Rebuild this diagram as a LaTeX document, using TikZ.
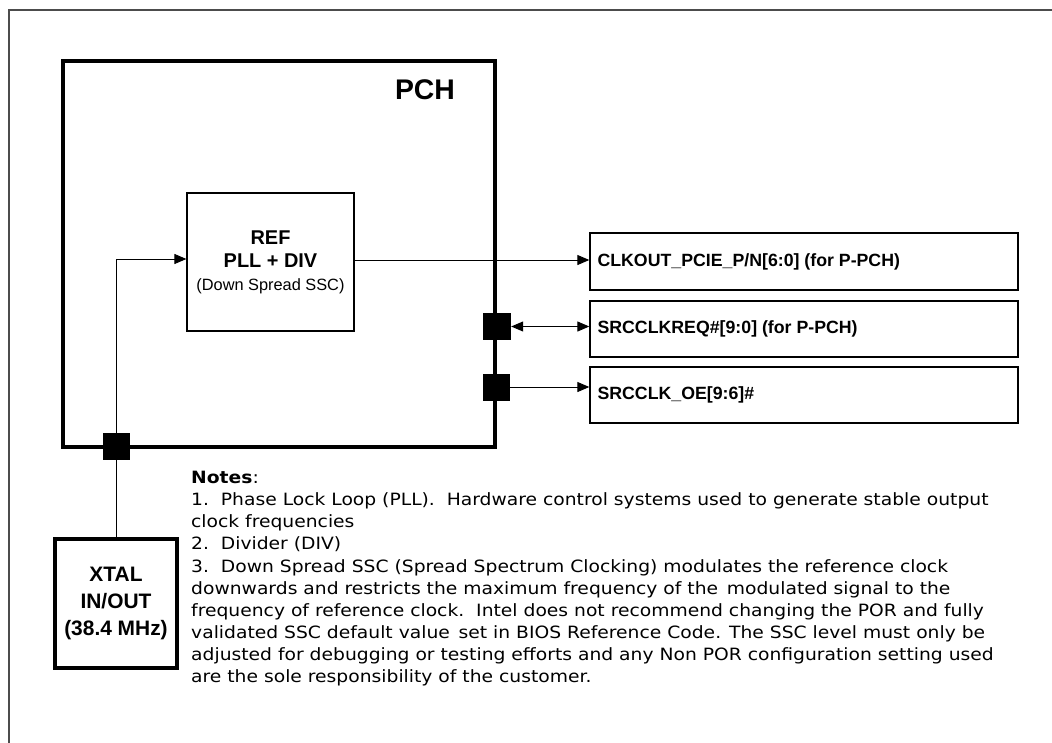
\documentclass[tikz,border=0pt]{standalone}
\usepackage{fontspec}
\setmainfont{Liberation Sans}
\newfontfamily\notefont[FakeStretch=1.105]{DejaVu Sans}
\usetikzlibrary{arrows.meta}
\begin{document}
\begin{tikzpicture}[x=1bp,y=-1bp,
  thinline/.style={line width=1bp, draw=black},
  tip/.style={-{Triangle[length=12bp,width=10bp]}},
  dtip/.style={{Triangle[length=12bp,width=10bp]}-{Triangle[length=12bp,width=10bp]}},
  pinsq/.style={fill=black, draw=none, minimum width=27bp, minimum height=27bp, inner sep=0},
  sigbox/.style={draw, line width=1.3bp, minimum width=428bp, minimum height=56bp, inner sep=0},
  siglbl/.style={anchor=west, inner sep=0, font=\bfseries\fontsize{17.8}{20}\selectfont}]
\useasboundingbox (0,0) rectangle (1052,743);
\draw[line width=1.5bp, draw=black!70] (9,743) -- (9,10) -- (1052,10);
% PCH
\node[draw, line width=4bp, minimum width=432bp, minimum height=386bp, inner sep=0] (pch) at (279,254) {};
\node[font=\bfseries\fontsize{28.5}{30}\selectfont] (pchl) at (425,90) {PCH};
% REF
\node[draw, line width=1.2bp, minimum width=167bp, minimum height=138bp, align=center, inner sep=0,
  font=\fontsize{20}{23}\selectfont] (ref) at (270.5,262)
  {\textbf{REF}\\\textbf{PLL + DIV}\\{\fontsize{16.4}{23}\selectfont (Down Spread SSC)}};
% XTAL
\node[draw, line width=3.3bp, minimum width=122bp, minimum height=129bp, align=center, inner sep=0,
  font=\bfseries\fontsize{21}{27.5}\selectfont] (xtal) at (116,603.5) {XTAL\\IN/OUT\\(38.4 MHz)};
% signal boxes
\node[sigbox, minimum height=57bp] (b1) at (804,261.5) {};
\node[sigbox] (b2) at (804,329) {};
\node[sigbox] (b3) at (804,395) {};
\node[siglbl] (t1) at ([xshift=8bp]b1.west) {CLKOUT\_PCIE\_P/N[6:0] (for P-PCH)};
\node[siglbl] (t2) at ([xshift=8bp]b2.west) {SRCCLKREQ\#[9:0] (for P-PCH)};
\node[siglbl] (t3) at ([xshift=8bp]b3.west) {SRCCLK\_OE[9:6]\#};
% wires
\draw[thinline, tip] (xtal.north) |- ([yshift=3bp]ref.west);
\draw[thinline, tip] ([yshift=2bp]ref.east) -- ([yshift=2bp]ref.east -| b1.west);
% pins
\node[pinsq] (pb) at (116,446.5) {};
\node[pinsq, minimum width=28bp] (p1) at (497,326.5) {};
\node[pinsq] (p2) at (496,387) {};
\draw[thinline, dtip] (p1.east) -- (p1.east -| b2.west);
\draw[thinline, tip] (p2.east) -- (p2.east -| b3.west);
% notes
\node[anchor=north west, inner sep=0, align=left, font=\notefont\fontsize{17}{22.2}\selectfont] (notes) at (191,471)
{\textbf{Notes}:\\
1.\ \ Phase Lock Loop (PLL).\ \ Hardware control systems used to generate stable output\\
clock frequencies\\
2.\ \ Divider (DIV)\\
3.\ \ Down Spread SSC (Spread Spectrum Clocking) modulates the reference clock\\
downwards and restricts the maximum frequency of the\,\ modulated signal to the\\
frequency of reference clock.\ \ Intel does not recommend changing the POR and fully\\
validated SSC default value\,\ set in BIOS Reference Code. The SSC level must only be\\
adjusted for debugging or testing efforts and any Non POR configuration setting used\\
are the sole responsibility of the customer.};
\end{tikzpicture}
\end{document}
